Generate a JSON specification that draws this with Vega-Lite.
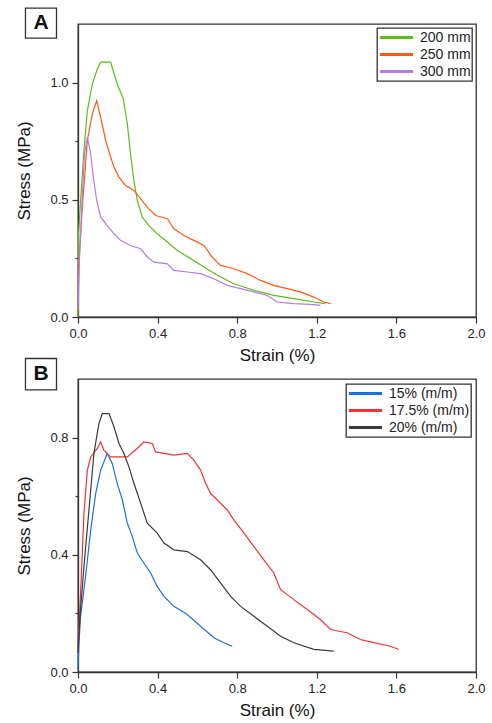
{
  "$schema": "https://vega.github.io/schema/vega-lite/v6.json",
  "background": "white",
  "padding": {"left": 14, "top": 6, "right": 4, "bottom": 2},
  "bounds": "flush",
  "spacing": 62,
  "config": {
    "font": "Liberation Sans",
    "view": {"stroke": "#333", "strokeWidth": 1.3},
    "axis": {
      "labelFont": "Liberation Sans", "labelFontSize": 13, "labelColor": "#222", "labelFlush": false,
      "titleFont": "Liberation Sans", "titleFontSize": 17, "titleFontWeight": "normal", "titleColor": "#111",
      "domainColor": "#333", "domainWidth": 1.3, "tickColor": "#333", "tickWidth": 1.2,
      "grid": false, "labelPadding": 4
    },
    "legend": {
      "title": null, "orient": "top-right", "strokeColor": "#333", "strokeWidth": 1.3,
      "fillColor": "white", "padding": 1, "symbolType": "stroke", "symbolSize": 1100,
      "symbolStrokeWidth": 3, "clipHeight": 17, "labelFontSize": 14, "labelOffset": 5,
      "labelColor": "#222", "rowPadding": 0, "labelFont": "Liberation Sans"
    }
  },
  "datasets": {
    "a": [
      {"series": "200 mm", "strain": 0.0, "stress": 0.0},
      {"series": "200 mm", "strain": 0.003, "stress": 0.355},
      {"series": "200 mm", "strain": 0.013, "stress": 0.497},
      {"series": "200 mm", "strain": 0.03, "stress": 0.71},
      {"series": "200 mm", "strain": 0.047, "stress": 0.88},
      {"series": "200 mm", "strain": 0.072, "stress": 0.994},
      {"series": "200 mm", "strain": 0.097, "stress": 1.058},
      {"series": "200 mm", "strain": 0.114, "stress": 1.087},
      {"series": "200 mm", "strain": 0.164, "stress": 1.087},
      {"series": "200 mm", "strain": 0.197, "stress": 0.994},
      {"series": "200 mm", "strain": 0.228, "stress": 0.93},
      {"series": "200 mm", "strain": 0.248, "stress": 0.824},
      {"series": "200 mm", "strain": 0.264, "stress": 0.696},
      {"series": "200 mm", "strain": 0.281, "stress": 0.582},
      {"series": "200 mm", "strain": 0.298, "stress": 0.497},
      {"series": "200 mm", "strain": 0.323, "stress": 0.426},
      {"series": "200 mm", "strain": 0.356, "stress": 0.39},
      {"series": "200 mm", "strain": 0.398, "stress": 0.355},
      {"series": "200 mm", "strain": 0.449, "stress": 0.32},
      {"series": "200 mm", "strain": 0.499, "stress": 0.284},
      {"series": "200 mm", "strain": 0.566, "stress": 0.249},
      {"series": "200 mm", "strain": 0.633, "stress": 0.213},
      {"series": "200 mm", "strain": 0.7, "stress": 0.178},
      {"series": "200 mm", "strain": 0.783, "stress": 0.142},
      {"series": "200 mm", "strain": 0.884, "stress": 0.114},
      {"series": "200 mm", "strain": 0.984, "stress": 0.092},
      {"series": "200 mm", "strain": 1.085, "stress": 0.078},
      {"series": "200 mm", "strain": 1.185, "stress": 0.064},
      {"series": "200 mm", "strain": 1.243, "stress": 0.057},
      {"series": "250 mm", "strain": 0.0, "stress": 0.02},
      {"series": "250 mm", "strain": 0.003, "stress": 0.213},
      {"series": "250 mm", "strain": 0.022, "stress": 0.469},
      {"series": "250 mm", "strain": 0.047, "stress": 0.753},
      {"series": "250 mm", "strain": 0.072, "stress": 0.866},
      {"series": "250 mm", "strain": 0.094, "stress": 0.923},
      {"series": "250 mm", "strain": 0.114, "stress": 0.852},
      {"series": "250 mm", "strain": 0.139, "stress": 0.753},
      {"series": "250 mm", "strain": 0.164, "stress": 0.682},
      {"series": "250 mm", "strain": 0.181, "stress": 0.639},
      {"series": "250 mm", "strain": 0.206, "stress": 0.597},
      {"series": "250 mm", "strain": 0.239, "stress": 0.561},
      {"series": "250 mm", "strain": 0.281, "stress": 0.54},
      {"series": "250 mm", "strain": 0.315, "stress": 0.504},
      {"series": "250 mm", "strain": 0.348, "stress": 0.469},
      {"series": "250 mm", "strain": 0.39, "stress": 0.433},
      {"series": "250 mm", "strain": 0.449, "stress": 0.419},
      {"series": "250 mm", "strain": 0.482, "stress": 0.376},
      {"series": "250 mm", "strain": 0.532, "stress": 0.348},
      {"series": "250 mm", "strain": 0.582, "stress": 0.327},
      {"series": "250 mm", "strain": 0.633, "stress": 0.305},
      {"series": "250 mm", "strain": 0.674, "stress": 0.256},
      {"series": "250 mm", "strain": 0.716, "stress": 0.22},
      {"series": "250 mm", "strain": 0.783, "stress": 0.206},
      {"series": "250 mm", "strain": 0.85, "stress": 0.185},
      {"series": "250 mm", "strain": 0.917, "stress": 0.156},
      {"series": "250 mm", "strain": 0.984, "stress": 0.135},
      {"series": "250 mm", "strain": 1.051, "stress": 0.121},
      {"series": "250 mm", "strain": 1.118, "stress": 0.107},
      {"series": "250 mm", "strain": 1.185, "stress": 0.085},
      {"series": "250 mm", "strain": 1.235, "stress": 0.064},
      {"series": "250 mm", "strain": 1.269, "stress": 0.057},
      {"series": "300 mm", "strain": 0.0, "stress": 0.03},
      {"series": "300 mm", "strain": 0.007, "stress": 0.24},
      {"series": "300 mm", "strain": 0.022, "stress": 0.525},
      {"series": "300 mm", "strain": 0.033, "stress": 0.696},
      {"series": "300 mm", "strain": 0.047, "stress": 0.767},
      {"series": "300 mm", "strain": 0.064, "stress": 0.696},
      {"series": "300 mm", "strain": 0.077, "stress": 0.597},
      {"series": "300 mm", "strain": 0.094, "stress": 0.497},
      {"series": "300 mm", "strain": 0.114, "stress": 0.426},
      {"series": "300 mm", "strain": 0.147, "stress": 0.39},
      {"series": "300 mm", "strain": 0.181, "stress": 0.355},
      {"series": "300 mm", "strain": 0.214, "stress": 0.327},
      {"series": "300 mm", "strain": 0.264, "stress": 0.305},
      {"series": "300 mm", "strain": 0.315, "stress": 0.291},
      {"series": "300 mm", "strain": 0.348, "stress": 0.256},
      {"series": "300 mm", "strain": 0.382, "stress": 0.234},
      {"series": "300 mm", "strain": 0.449, "stress": 0.227},
      {"series": "300 mm", "strain": 0.482, "stress": 0.199},
      {"series": "300 mm", "strain": 0.549, "stress": 0.192},
      {"series": "300 mm", "strain": 0.616, "stress": 0.185},
      {"series": "300 mm", "strain": 0.683, "stress": 0.163},
      {"series": "300 mm", "strain": 0.75, "stress": 0.135},
      {"series": "300 mm", "strain": 0.817, "stress": 0.121},
      {"series": "300 mm", "strain": 0.884, "stress": 0.107},
      {"series": "300 mm", "strain": 0.951, "stress": 0.092},
      {"series": "300 mm", "strain": 1.001, "stress": 0.064},
      {"series": "300 mm", "strain": 1.085, "stress": 0.057},
      {"series": "300 mm", "strain": 1.168, "stress": 0.054},
      {"series": "300 mm", "strain": 1.218, "stress": 0.05}
    ],
    "b": [
      {"series": "15% (m/m)", "strain": 0.0, "stress": 0.009},
      {"series": "15% (m/m)", "strain": 0.005, "stress": 0.1},
      {"series": "15% (m/m)", "strain": 0.013, "stress": 0.19},
      {"series": "15% (m/m)", "strain": 0.038, "stress": 0.326},
      {"series": "15% (m/m)", "strain": 0.064, "stress": 0.485},
      {"series": "15% (m/m)", "strain": 0.089, "stress": 0.61},
      {"series": "15% (m/m)", "strain": 0.114, "stress": 0.689},
      {"series": "15% (m/m)", "strain": 0.147, "stress": 0.746},
      {"series": "15% (m/m)", "strain": 0.172, "stress": 0.712},
      {"series": "15% (m/m)", "strain": 0.197, "stress": 0.644},
      {"series": "15% (m/m)", "strain": 0.223, "stress": 0.587},
      {"series": "15% (m/m)", "strain": 0.248, "stress": 0.508},
      {"series": "15% (m/m)", "strain": 0.273, "stress": 0.462},
      {"series": "15% (m/m)", "strain": 0.298, "stress": 0.406},
      {"series": "15% (m/m)", "strain": 0.331, "stress": 0.372},
      {"series": "15% (m/m)", "strain": 0.365, "stress": 0.338},
      {"series": "15% (m/m)", "strain": 0.398, "stress": 0.292},
      {"series": "15% (m/m)", "strain": 0.432, "stress": 0.258},
      {"series": "15% (m/m)", "strain": 0.482, "stress": 0.224},
      {"series": "15% (m/m)", "strain": 0.549, "stress": 0.196},
      {"series": "15% (m/m)", "strain": 0.616, "stress": 0.156},
      {"series": "15% (m/m)", "strain": 0.683, "stress": 0.117},
      {"series": "15% (m/m)", "strain": 0.733, "stress": 0.1},
      {"series": "15% (m/m)", "strain": 0.775, "stress": 0.088},
      {"series": "17.5% (m/m)", "strain": 0.0, "stress": 0.088},
      {"series": "17.5% (m/m)", "strain": 0.013, "stress": 0.27},
      {"series": "17.5% (m/m)", "strain": 0.03, "stress": 0.542},
      {"series": "17.5% (m/m)", "strain": 0.047, "stress": 0.689},
      {"series": "17.5% (m/m)", "strain": 0.064, "stress": 0.734},
      {"series": "17.5% (m/m)", "strain": 0.097, "stress": 0.763},
      {"series": "17.5% (m/m)", "strain": 0.114, "stress": 0.785},
      {"series": "17.5% (m/m)", "strain": 0.13, "stress": 0.757},
      {"series": "17.5% (m/m)", "strain": 0.164, "stress": 0.734},
      {"series": "17.5% (m/m)", "strain": 0.248, "stress": 0.734},
      {"series": "17.5% (m/m)", "strain": 0.298, "stress": 0.763},
      {"series": "17.5% (m/m)", "strain": 0.331, "stress": 0.785},
      {"series": "17.5% (m/m)", "strain": 0.373, "stress": 0.78},
      {"series": "17.5% (m/m)", "strain": 0.39, "stress": 0.751},
      {"series": "17.5% (m/m)", "strain": 0.482, "stress": 0.74},
      {"series": "17.5% (m/m)", "strain": 0.549, "stress": 0.746},
      {"series": "17.5% (m/m)", "strain": 0.582, "stress": 0.723},
      {"series": "17.5% (m/m)", "strain": 0.616, "stress": 0.689},
      {"series": "17.5% (m/m)", "strain": 0.641, "stress": 0.644},
      {"series": "17.5% (m/m)", "strain": 0.666, "stress": 0.61},
      {"series": "17.5% (m/m)", "strain": 0.7, "stress": 0.587},
      {"series": "17.5% (m/m)", "strain": 0.75, "stress": 0.553},
      {"series": "17.5% (m/m)", "strain": 0.783, "stress": 0.519},
      {"series": "17.5% (m/m)", "strain": 0.834, "stress": 0.474},
      {"series": "17.5% (m/m)", "strain": 0.884, "stress": 0.428},
      {"series": "17.5% (m/m)", "strain": 0.934, "stress": 0.383},
      {"series": "17.5% (m/m)", "strain": 0.984, "stress": 0.338},
      {"series": "17.5% (m/m)", "strain": 1.018, "stress": 0.281},
      {"series": "17.5% (m/m)", "strain": 1.085, "stress": 0.247},
      {"series": "17.5% (m/m)", "strain": 1.152, "stress": 0.213},
      {"series": "17.5% (m/m)", "strain": 1.218, "stress": 0.179},
      {"series": "17.5% (m/m)", "strain": 1.269, "stress": 0.145},
      {"series": "17.5% (m/m)", "strain": 1.352, "stress": 0.134},
      {"series": "17.5% (m/m)", "strain": 1.419, "stress": 0.111},
      {"series": "17.5% (m/m)", "strain": 1.486, "stress": 0.1},
      {"series": "17.5% (m/m)", "strain": 1.57, "stress": 0.088},
      {"series": "17.5% (m/m)", "strain": 1.612, "stress": 0.077},
      {"series": "20% (m/m)", "strain": 0.0, "stress": 0.066},
      {"series": "20% (m/m)", "strain": 0.01, "stress": 0.19},
      {"series": "20% (m/m)", "strain": 0.03, "stress": 0.36},
      {"series": "20% (m/m)", "strain": 0.055, "stress": 0.553},
      {"series": "20% (m/m)", "strain": 0.08, "stress": 0.746},
      {"series": "20% (m/m)", "strain": 0.105, "stress": 0.848},
      {"series": "20% (m/m)", "strain": 0.122, "stress": 0.882},
      {"series": "20% (m/m)", "strain": 0.156, "stress": 0.882},
      {"series": "20% (m/m)", "strain": 0.181, "stress": 0.836},
      {"series": "20% (m/m)", "strain": 0.206, "stress": 0.78},
      {"series": "20% (m/m)", "strain": 0.231, "stress": 0.746},
      {"series": "20% (m/m)", "strain": 0.256, "stress": 0.7},
      {"series": "20% (m/m)", "strain": 0.281, "stress": 0.644},
      {"series": "20% (m/m)", "strain": 0.315, "stress": 0.576},
      {"series": "20% (m/m)", "strain": 0.348, "stress": 0.508},
      {"series": "20% (m/m)", "strain": 0.398, "stress": 0.474},
      {"series": "20% (m/m)", "strain": 0.432, "stress": 0.44},
      {"series": "20% (m/m)", "strain": 0.482, "stress": 0.417},
      {"series": "20% (m/m)", "strain": 0.549, "stress": 0.411},
      {"series": "20% (m/m)", "strain": 0.616, "stress": 0.383},
      {"series": "20% (m/m)", "strain": 0.666, "stress": 0.349},
      {"series": "20% (m/m)", "strain": 0.716, "stress": 0.304},
      {"series": "20% (m/m)", "strain": 0.767, "stress": 0.258},
      {"series": "20% (m/m)", "strain": 0.817, "stress": 0.224},
      {"series": "20% (m/m)", "strain": 0.884, "stress": 0.19},
      {"series": "20% (m/m)", "strain": 0.951, "stress": 0.156},
      {"series": "20% (m/m)", "strain": 1.018, "stress": 0.122},
      {"series": "20% (m/m)", "strain": 1.085, "stress": 0.1},
      {"series": "20% (m/m)", "strain": 1.185, "stress": 0.077},
      {"series": "20% (m/m)", "strain": 1.285, "stress": 0.071}
    ]
  },
  "vconcat": [
    {
      "width": 398,
      "height": 293,
      "layer": [
        {
          "data": {"name": "a"},
          "mark": {"type": "line", "strokeWidth": 1.2},
          "encoding": {
            "x": {
              "field": "strain", "type": "quantitative",
              "scale": {"domain": [0, 2], "nice": false},
              "axis": {
                "title": "Strain (%)", "titlePadding": 7,
                "values": [0, 0.2, 0.4, 0.6, 0.8, 1.0, 1.2, 1.4, 1.6, 1.8, 2.0],
                "labelExpr": "abs(datum.value/0.4 - round(datum.value/0.4)) < 0.01 ? format(datum.value, '.1f') : ''",
                "tickSize": {"condition": {"test": "abs(datum.value/0.4 - round(datum.value/0.4)) < 0.01", "value": 6}, "value": 3}
              }
            },
            "y": {
              "field": "stress", "type": "quantitative",
              "scale": {"domain": [0, 1.25], "nice": false},
              "axis": {
                "title": "Stress (MPa)", "titlePadding": 16.5,
                "values": [0, 0.25, 0.5, 0.75, 1.0],
                "labelExpr": "abs(datum.value/0.5 - round(datum.value/0.5)) < 0.01 ? format(datum.value, '.1f') : ''",
                "tickSize": {"condition": {"test": "abs(datum.value/0.5 - round(datum.value/0.5)) < 0.01", "value": 6}, "value": 3}
              }
            },
            "color": {
              "field": "series", "type": "nominal",
              "scale": {"domain": ["200 mm", "250 mm", "300 mm"], "range": ["#5cbc1c", "#ff5a12", "#b47ae6"]},
              "legend": {"offset": 4}
            }
          }
        },
        {
          "data": {"values": [{}]},
          "mark": {"type": "rect", "filled": false, "stroke": "#333", "strokeWidth": 1.3},
          "encoding": {
            "x": {"datum": -0.264}, "x2": {"datum": -0.108},
            "y": {"datum": 1.318}, "y2": {"datum": 1.19}
          }
        },
        {
          "data": {"values": [{}]},
          "mark": {"type": "text", "text": "A", "fontSize": 21, "fontWeight": "bold", "font": "Liberation Sans", "color": "#111", "align": "center", "baseline": "middle"},
          "encoding": {"x": {"datum": -0.186}, "y": {"datum": 1.254}}
        }
      ]
    },
    {
      "width": 398,
      "height": 293,
      "layer": [
        {
          "data": {"name": "b"},
          "mark": {"type": "line", "strokeWidth": 1.2},
          "encoding": {
            "x": {
              "field": "strain", "type": "quantitative",
              "scale": {"domain": [0, 2], "nice": false},
              "axis": {
                "title": "Strain (%)", "titlePadding": 7,
                "values": [0, 0.2, 0.4, 0.6, 0.8, 1.0, 1.2, 1.4, 1.6, 1.8, 2.0],
                "labelExpr": "abs(datum.value/0.4 - round(datum.value/0.4)) < 0.01 ? format(datum.value, '.1f') : ''",
                "tickSize": {"condition": {"test": "abs(datum.value/0.4 - round(datum.value/0.4)) < 0.01", "value": 6}, "value": 3}
              }
            },
            "y": {
              "field": "stress", "type": "quantitative",
              "scale": {"domain": [0, 1.0], "nice": false},
              "axis": {
                "title": "Stress (MPa)", "titlePadding": 16.5,
                "values": [0, 0.2, 0.4, 0.6, 0.8],
                "labelExpr": "abs(datum.value/0.4 - round(datum.value/0.4)) < 0.01 ? format(datum.value, '.1f') : ''",
                "tickSize": {"condition": {"test": "abs(datum.value/0.4 - round(datum.value/0.4)) < 0.01", "value": 6}, "value": 3}
              }
            },
            "color": {
              "field": "series", "type": "nominal",
              "scale": {"domain": ["15% (m/m)", "17.5% (m/m)", "20% (m/m)"], "range": ["#1f6fdc", "#f03434", "#3a3a3a"]},
              "legend": {"offset": 5}
            }
          }
        },
        {
          "data": {"values": [{}]},
          "mark": {"type": "rect", "filled": false, "stroke": "#333", "strokeWidth": 1.3},
          "encoding": {
            "x": {"datum": -0.264}, "x2": {"datum": -0.108},
            "y": {"datum": 1.07}, "y2": {"datum": 0.963}
          }
        },
        {
          "data": {"values": [{}]},
          "mark": {"type": "text", "text": "B", "fontSize": 21, "fontWeight": "bold", "font": "Liberation Sans", "color": "#111", "align": "center", "baseline": "middle"},
          "encoding": {"x": {"datum": -0.186}, "y": {"datum": 1.016}}
        }
      ]
    }
  ],
  "resolve": {"scale": {"color": "independent"}}
}
